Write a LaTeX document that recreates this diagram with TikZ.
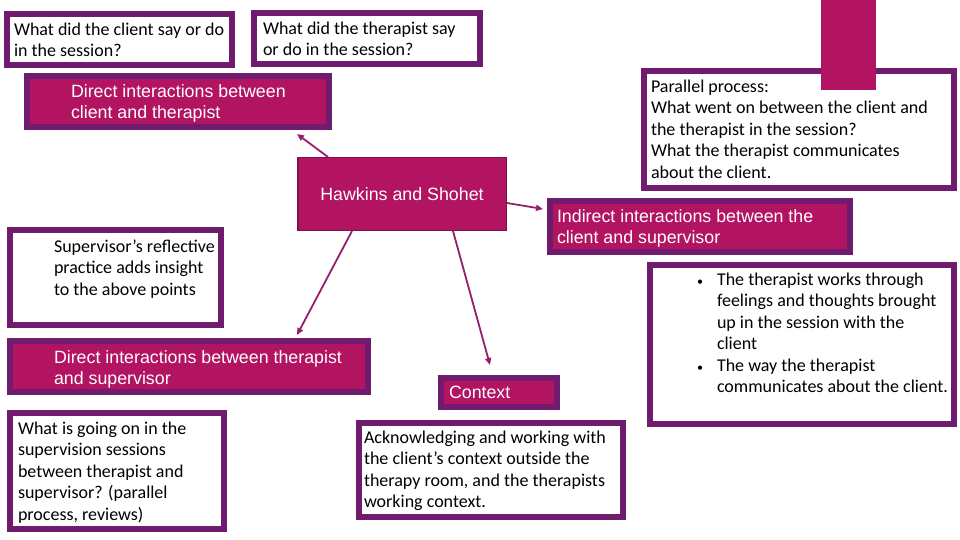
\documentclass[tikz,border=0pt]{standalone}
\usepackage{fontspec}
\setmainfont{Carlito}
\newfontfamily\arialfont{Liberation Sans}
\usetikzlibrary{arrows.meta,positioning,calc}
\definecolor{boxpurple}{RGB}{112,28,110}
\definecolor{boxmagenta}{RGB}{178,20,98}
\definecolor{hawkedge}{RGB}{128,16,76}
\definecolor{arrowpink}{RGB}{150,30,110}

\newcommand{\wtext}{\fontsize{18}{21.5}\selectfont}
\newcommand{\mtext}{\arialfont\fontsize{17.8}{21}\selectfont}
\newcommand{\smallbullet}{\makebox[20pt][l]{\fontsize{12}{12}\selectfont\textbullet}}
% width, height, indent, lines
\newcommand{\boxtext}[4]{\parbox[t][#2][t]{#1}{\raggedright\leftskip=#3\rightskip=-30pt plus 1fil\strut#4}}

\begin{document}
\begin{tikzpicture}[x=1pt, y=-1pt,
    wbox/.style={draw=boxpurple, line width=6pt, fill=white, anchor=north west,
        inner xsep=4pt, font=\wtext},
    mbox/.style={draw=boxpurple, line width=6pt, fill=boxmagenta, anchor=north west,
        inner xsep=4pt, text=white, font=\mtext},
    hbox/.style={draw=hawkedge, line width=1.5pt, fill=boxmagenta, anchor=north west,
        minimum width=208.5pt, minimum height=72.5pt, inner sep=0pt, text=white, font=\mtext},
    arr/.style={-{Triangle[length=7pt,width=6pt]}, line width=1.8pt, arrowpink}
]
    \path[use as bounding box, fill=white] (0,0) rectangle (960,540);

    % top row
    \node[wbox, inner ysep=6pt] (client) at (4,11)
        {\boxtext{217pt}{39pt}{3pt}{What did the client say or do\\in the session?}};
    \node[wbox, inner ysep=6pt] (therapist) at (251,10)
        {\boxtext{218pt}{39pt}{5pt}{What did the therapist say\\or do in the session?}};
    \node[mbox, inner ysep=7.3pt] (dct) at (24,73)
        {\boxtext{294pt}{36.4pt}{40pt}{Direct interactions between\\client and therapist}};
    \node[wbox, inner ysep=6pt] (parallel) at (641,68)
        {\boxtext{302pt}{105pt}{3pt}{Parallel process:\\What went on between the client and\\the therapist in the session?\\What the therapist communicates\\about the client.}};
    \fill[boxmagenta] (821,-2) rectangle (876,90);

    % centre
    \node[hbox] (hawk) at (297,157) {Hawkins and Shohet};
    \node[mbox, inner ysep=6.3pt] (indirect) at (547,198)
        {\boxtext{292pt}{38.4pt}{3pt}{Indirect interactions between the\\client and supervisor}};

    % left column
    \node[wbox, inner ysep=7pt] (reflect) at (7,227)
        {\boxtext{203pt}{81pt}{40pt}{Supervisor’s reflective\\practice adds insight\\to the above points}};
    \node[mbox, inner ysep=7.3pt] (dts) at (7,338)
        {\boxtext{350pt}{36.4pt}{40pt}{Direct interactions between therapist\\and supervisor}};
    \node[wbox, inner ysep=6pt] (going) at (7,410)
        {\boxtext{206pt}{104pt}{4pt}{What is going on in the\\supervision sessions\\between therapist and\\supervisor? (parallel\\process, reviews)}};

    % bottom middle and right
    \node[mbox, inner ysep=5.3pt] (context) at (438,375)
        {\boxtext{108pt}{18.4pt}{4pt}{Context}};
    \node[wbox, inner ysep=5pt] (ack) at (356,420)
        {\boxtext{256pt}{84pt}{1pt}{Acknowledging and working with\\the client’s context outside the\\therapy room, and the therapists\\working context.}};
    \node[wbox, inner ysep=5pt] (works) at (647,262)
        {\boxtext{296pt}{149pt}{43pt}{\smallbullet The therapist works through\\
        \hspace*{20pt}feelings and thoughts brought\\
        \hspace*{20pt}up in the session with the\\
        \hspace*{20pt}client\\
        \smallbullet The way the therapist\\
        \hspace*{20pt}communicates about the client.}};

    % arrows out of the centre box
    \draw[arr] ([xshift=31pt]hawk.north west) -- ([xshift=-35pt,yshift=-4pt]dct.south east);
    \draw[arr] ([yshift=-9pt]hawk.east) -- ([xshift=-4pt,yshift=-11pt]indirect.north west);
    \draw[arr] ([xshift=55pt]hawk.south west) -- ([xshift=-74pt,yshift=3pt]dts.north east);
    \draw[arr] ([xshift=156pt]hawk.south west) -- ([xshift=52pt,yshift=10pt]context.north west);
\end{tikzpicture}
\end{document}
